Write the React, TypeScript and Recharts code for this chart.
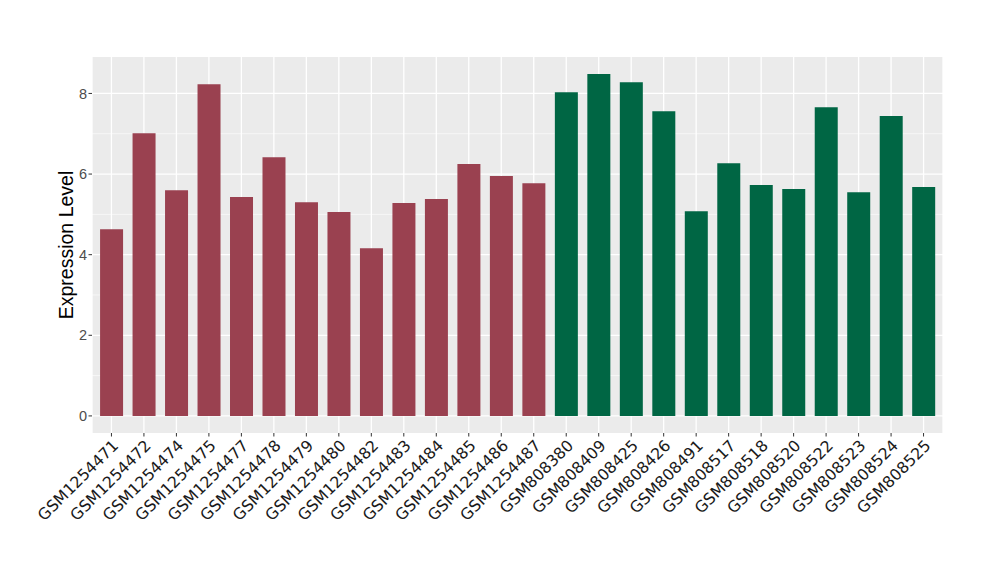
import { BarChart, Bar, XAxis, YAxis, CartesianGrid, Cell } from 'recharts';

const samples = [
  'GSM1254471', 'GSM1254472', 'GSM1254474', 'GSM1254475', 'GSM1254477', 'GSM1254478', 'GSM1254479',
  'GSM1254480', 'GSM1254482', 'GSM1254483', 'GSM1254484', 'GSM1254485', 'GSM1254486', 'GSM1254487',
  'GSM808380', 'GSM808409', 'GSM808425', 'GSM808426', 'GSM808491', 'GSM808517', 'GSM808518',
  'GSM808520', 'GSM808522', 'GSM808523', 'GSM808524', 'GSM808525',
];
const levels = [
  4.63, 7.01, 5.6, 8.23, 5.43, 6.42, 5.3, 5.06, 4.16, 5.28, 5.38, 6.25, 5.95, 5.77,
  8.03, 8.48, 8.28, 7.56, 5.08, 6.27, 5.73, 5.63, 7.66, 5.55, 7.44, 5.68,
];
const groups = [
  'a', 'a', 'a', 'a', 'a', 'a', 'a', 'a', 'a', 'a', 'a', 'a', 'a', 'a',
  'b', 'b', 'b', 'b', 'b', 'b', 'b', 'b', 'b', 'b', 'b', 'b',
];
const groupColors: Record<string, string> = { a: '#9A4150', b: '#006644' };
const yTicks = [0, 2, 4, 6, 8];
const yMinor = [1, 3, 5, 7];

const data = samples.map((s, i) => ({ sample: s, level: levels[i], group: groups[i] }));

function SampleTick({ x, y, payload }: any) {
  return (
    <text
      x={x}
      y={y}
      dy="0.72em"
      textAnchor="end"
      transform={`rotate(-45, ${x}, ${y})`}
      fill="#1a1a1a"
      fontSize={15.8}
      fontFamily="'DejaVu Sans', sans-serif"
    >
      {payload.value}
    </text>
  );
}

function YTitle({ viewBox }: any) {
  const cy = viewBox.y + viewBox.height / 2;
  return (
    <text
      x={66}
      y={cy}
      transform={`rotate(-90, 66, ${cy})`}
      textAnchor="middle"
      dominantBaseline="central"
      fontSize={19.5}
      fill="#000"
      fontFamily="'Liberation Sans', Arial, sans-serif"
    >
      Expression Level
    </text>
  );
}

export default function App() {
  return (
    <div style={{ position: 'absolute', left: 0, top: 0, width: 1000, height: 580, background: '#fff' }}>
      <BarChart
        width={1000}
        height={580}
        data={data}
        margin={{ top: 57, right: 57, bottom: 0, left: 0 }}
        barCategoryGap="15%"
      >
        <CartesianGrid fill="#EBEBEB" stroke="#fff" strokeWidth={0.6} vertical={false} horizontalValues={yMinor} />
        <CartesianGrid stroke="#fff" strokeWidth={1.3} horizontalValues={yTicks} />
        <XAxis
          dataKey="sample"
          interval={0}
          height={147}
          padding={{ left: 3.2, right: 3.2 }}
          axisLine={false}
          tickSize={3.5}
          tickMargin={2}
          tickLine={{ stroke: '#333', strokeWidth: 1 }}
          tick={<SampleTick />}
        />
        <YAxis
          type="number"
          domain={[-0.424, 8.904]}
          ticks={yTicks}
          width={92}
          axisLine={false}
          tickSize={3.5}
          tickMargin={1.5}
          tickLine={{ stroke: '#333', strokeWidth: 1 }}
          tick={{ fill: '#4D4D4D', fontSize: 14.5, fontFamily: "'Liberation Sans', Arial, sans-serif" }}
          label={<YTitle />}
        />
        <Bar dataKey="level" isAnimationActive={false}>
          {data.map((d) => (
            <Cell key={d.sample} fill={groupColors[d.group]} />
          ))}
        </Bar>
      </BarChart>
    </div>
  );
}
